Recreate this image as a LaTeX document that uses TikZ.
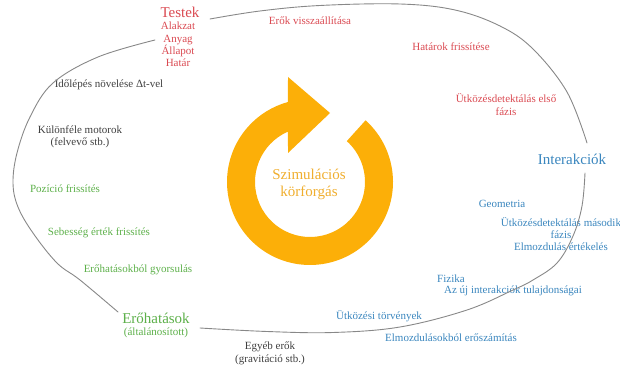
\documentclass[tikz,border=0pt]{standalone}
\usepackage{fontspec}
\setmainfont{Liberation Serif}
\usetikzlibrary{calc}
\definecolor{bodyred}{HTML}{DA4A52}
\definecolor{forcegreen}{HTML}{5DB04A}
\definecolor{interblue}{HTML}{3A86BE}
\definecolor{misctext}{HTML}{3F3F3F}
\definecolor{loopgray}{HTML}{888888}
\definecolor{ringorange}{HTML}{FCAF08}
\definecolor{cycletext}{HTML}{F0AE2E}
\begin{document}
\begin{tikzpicture}[x=1pt,y=1pt,
  lbl/.style={inner sep=0pt, font=\fontsize{11}{12.4}\selectfont, align=center},
  head/.style={inner sep=0pt, font=\fontsize{15}{17}\selectfont, align=center},
  loopline/.style={draw=loopgray, line width=0.9pt, line cap=round}]
\useasboundingbox (0,0) rectangle (620,369);

% --- the three stages of the loop ---
\node[head, bodyred] (testek) at (180,357) {Testek};
\node[lbl, bodyred] (testek-list) at (178,324.5) {Alakzat\\Anyag\\Állapot\\Határ};
\node[head, interblue] (inter) at (572,210) {Interakciók};
\node[head, forcegreen] (erohat) at (156,51) {Erőhatások};
\node[lbl, forcegreen] (erohat-sub) at (156,36) {(általánosított)};

% --- steps between Testek and Interakciók ---
\node[lbl, bodyred] (restore) at (310,348) {Erők visszaállítása};
\node[lbl, bodyred] (bounds) at (451,322) {Határok frissítése};
\node[lbl, bodyred] (broad) at (506,264.5) {Ütközésdetektálás első\\fázis};

% --- steps between Interakciók and Erőhatások ---
\node[lbl, interblue] (geom) at (502,165) {Geometria};
\node[lbl, interblue] (narrow) at (561,135) {Ütközésdetektálás második\\fázis\\Elmozdulás értékelés};
\node[lbl, interblue, anchor=west] (phys) at (437,90) {Fizika};
\node[lbl, interblue] (props) at (513,78) {Az új interakciók tulajdonságai};
\node[lbl, interblue] (laws) at (379,53) {Ütközési törvények};
\node[lbl, interblue] (penalty) at (451,31) {Elmozdulásokból erőszámítás};
\node[lbl, misctext] (other) at (270,15.5) {Egyéb erők\\(gravitáció stb.)};

% --- steps between Erőhatások and Testek ---
\node[lbl, forcegreen] (accel) at (138,99) {Erőhatásokból gyorsulás};
\node[lbl, forcegreen] (vel) at (99,136) {Sebesség érték frissítés};
\node[lbl, forcegreen] (pos) at (65,180) {Pozíció frissítés};
\node[lbl, misctext] (motors) at (80,232) {Különféle motorok\\(felvevő stb.)};
\node[lbl, misctext] (dt) at (109,284) {Időlépés növelése Δt-vel};

% --- the loop itself, one arc per stage transition ---
\draw[loopline] plot[smooth, tension=0.6] coordinates {
  ([shift={(30,-7)}]testek.center) (260,358) (320,363.5) (400,365) (455,359)
  (500,343) (533,320) (567,277) ([shift={(15,16)}]inter.center)};
\draw[loopline] plot[smooth, tension=0.6] coordinates {
  ([shift={(13,-14)}]inter.center) (582,163) (573,133) (557,106) (533,89)
  (513,79) (467,59) (400,42) (333,36.5) (267,37.5) ([shift={(44,-10)}]erohat.center)};
\draw[loopline] plot[smooth, tension=0.6] coordinates {
  ([shift={(-38,6)}]erohat.center) (80,89) (57,106) (33,136) (18,162) (13,186)
  (17,216) (30,252) (53,286) (98,312) ([shift={(-25,-28)}]testek.center)};

% --- central circular arrow ---
\coordinate (cyc) at (310,187);
\fill[ringorange] ([shift={(48:83)}]cyc)
  arc[start angle=48, end angle=-254.6, radius=83]
  -- (288,292) -- (330,256) -- (288,216)
  -- ([shift={(-246.4:55)}]cyc)
  arc[start angle=-246.4, end angle=48, radius=55] -- cycle;
\node[inner sep=0pt, font=\fontsize{15}{17}\selectfont, align=center, cycletext]
  (cyclabel) at ([shift={(-1,-2.5)}]cyc) {Szimulációs\\körforgás};
\end{tikzpicture}
\end{document}
